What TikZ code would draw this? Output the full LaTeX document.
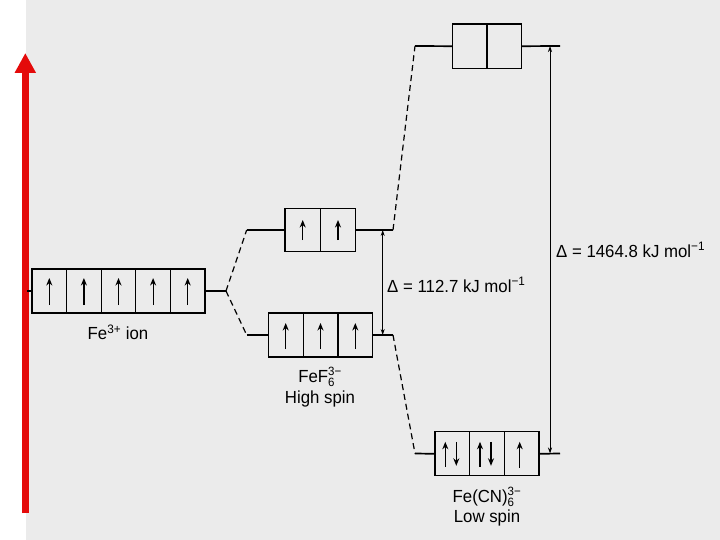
\documentclass[tikz,border=0pt]{standalone}
\usepackage{fontspec}
\setmainfont[FakeStretch=0.96]{Liberation Sans}
\usetikzlibrary{arrows.meta}
\definecolor{bggrey}{RGB}{235,235,235}
\definecolor{arrred}{RGB}{228,10,10}
\newcommand\sbsp[2]{$^{\mbox{\fontsize{12}{13}\selectfont #2}}_{\mbox{\fontsize{12}{13}\selectfont #1}}$}
\begin{document}
\begin{tikzpicture}[x=1pt,y=-1pt,
  cell/.style={draw=black, line width=1.2pt, minimum width=#1, minimum height=44pt, inner sep=0pt, outer sep=0pt},
  cell/.default=34.6pt,
  level/.style={line width=1.7pt},
  dashlink/.style={line width=1.2pt, dash pattern=on 6pt off 4pt},
  spin/.style={line width=1.2pt, -{Stealth[length=7.5pt,width=6pt]}},
  gap/.style={line width=0.8pt, {Stealth[length=6pt,width=4pt]}-{Stealth[length=6pt,width=4pt]}},
  lbl/.style={font=\fontsize{17.5}{20}\selectfont, inner sep=0pt, align=center},
  bigarrow/.style={draw=arrred, line width=7pt, -{Triangle[length=20pt,width=20pt]}}]
\useasboundingbox (0,0) rectangle (720,540);
\fill[white] (0,0) rectangle (720,540);
\fill[bggrey] (26,0) rectangle (720,540);

% red energy arrow
\coordinate (rb) at (25.3,513);
\coordinate (rt) at (25.3,53);
\draw[bigarrow] (rb) -- (rt);

% Fe3+ ion
\foreach \i/\x in {1/49.3,2/83.9,3/118.5,4/153.1,5/187.7}{
  \node[cell] (fe\i) at (\x,291) {};
  \draw[spin] ([yshift=-14pt]fe\i.center) -- ([yshift=13pt]fe\i.center);
}
\coordinate (feL) at (27,291);
\coordinate (feR) at (226,291);
\draw[level] (feL) -- (fe1.west);
\draw[level] (fe5.east) -- (feR);
\node[lbl] (felab) at (118,332) {Fe\textsuperscript{3+} ion};

% FeF6 high spin, eg
\foreach \i/\x in {1/302.7,2/338}{
  \node[cell=35.35pt, minimum height=43.4pt] (fhe\i) at (\x,230) {};
  \draw[spin] ([yshift=-10pt]fhe\i.center) -- ([yshift=10pt]fhe\i.center);
}
\coordinate (fheL) at (246.7,230);
\coordinate (fheR) at (393,230);
\draw[level] (fheL) -- (fhe1.west);
\draw[level] (fhe2.east) -- (fheR);

% FeF6 high spin, t2g
\foreach \i/\x in {1/285.7,2/320.5,3/355.3}{
  \node[cell=34.8pt] (fht\i) at (\x,335) {};
  \draw[spin] ([yshift=-14pt]fht\i.center) -- ([yshift=12pt]fht\i.center);
}
\coordinate (fhtL) at (246.7,335);
\coordinate (fhtR) at (393,335);
\draw[level] (fhtL) -- (fht1.west);
\draw[level] (fht3.east) -- (fhtR);
\node[lbl] (fflab) at (320,377) {FeF\sbsp{6}{3−}};
\node[lbl] (fflab2) at (320,399) {High spin};

% Fe(CN)6 low spin, eg
\foreach \i/\x in {1/469.7,2/504.3}{
  \node[cell=34.7pt, minimum height=44.3pt] (cle\i) at (\x,46.2) {};
}
\coordinate (cleL) at (415,46);
\coordinate (cleR) at (560,46);
\draw[level] (cleL) -- (cle1.west);
\draw[level] (cle2.east) -- (cleR);

% Fe(CN)6 low spin, t2g
\foreach \i/\x in {1/452.3,2/487,3/521.7}{
  \node[cell=34.67pt] (clt\i) at (\x,453.8) {};
}
\foreach \i in {1,2}{
  \draw[spin] ([xshift=-7pt,yshift=-13pt]clt\i.center) -- ([xshift=-7pt,yshift=12pt]clt\i.center);
  \draw[spin] ([xshift=4pt,yshift=12pt]clt\i.center) -- ([xshift=4pt,yshift=-12pt]clt\i.center);
}
\draw[spin] ([xshift=-2pt,yshift=-14pt]clt3.center) -- ([xshift=-2pt,yshift=12pt]clt3.center);
\coordinate (cltL) at (415,453.5);
\coordinate (cltR) at (560,453.5);
\draw[level] (cltL) -- (clt1.west);
\draw[level] (clt3.east) -- (cltR);
\node[lbl] (cnlab) at (487,497) {Fe(CN)\sbsp{6}{3−}};
\node[lbl] (cnlab2) at (487,518) {Low spin};

% dashed correlation lines
\draw[dashlink] (feR) -- (fheL);
\draw[dashlink] (feR) -- (fhtL);
\draw[dashlink] (fheR) -- (cleL);
\draw[dashlink] (fhtR) -- (cltL);

% splitting arrows
\coordinate (g1t) at (382.7,230);
\coordinate (g1b) at (382.7,335);
\draw[gap] (g1t) -- (g1b);
\node[lbl, anchor=west] (d1) at (387,285) {Δ = 112.7 kJ mol\textsuperscript{−1}};
\coordinate (g2t) at (550,46);
\coordinate (g2b) at (550,453.5);
\draw[gap] (g2t) -- (g2b);
\node[lbl, anchor=west] (d2) at (556,250) {Δ = 1464.8 kJ mol\textsuperscript{−1}};
\end{tikzpicture}
\end{document}
